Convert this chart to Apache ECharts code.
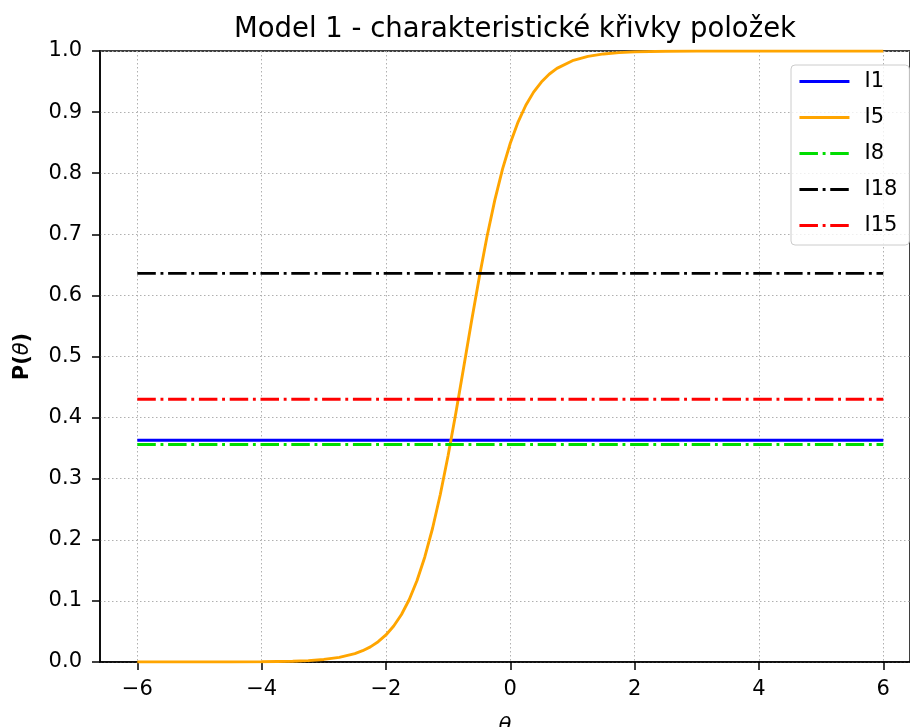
<!DOCTYPE html>
<html>
<head>
<meta charset="utf-8">
<script src="https://cdn.jsdelivr.net/npm/echarts@6/dist/echarts.min.js"></script>
<style>
  html, body { margin: 0; padding: 0; background: #fff; }
  #chart { width: 910px; height: 727px; }
</style>
</head>
<body>
<div id="chart"></div>
<script>
// hodnoty
var thetaRange = [-6, 6];
var i1Level = 0.363;
var i8Level = 0.356;
var i18Level = 0.636;
var i15Level = 0.43;

// křivka I5 (theta, P)
var i5Theta = [-6, -5, -4.5, -4, -3.5, -3.25, -3, -2.75, -2.5, -2.375, -2.25, -2.125, -2,
  -1.875, -1.75, -1.625, -1.5, -1.375, -1.25, -1.125, -1, -0.875, -0.75, -0.625, -0.5,
  -0.375, -0.25, -0.125, 0, 0.125, 0.25, 0.375, 0.5, 0.625, 0.75, 1, 1.25, 1.5, 1.75,
  2, 2.5, 3, 4, 5, 6];
var i5P = [0.0, 0.00003, 0.00012, 0.0004, 0.0013, 0.0023, 0.0042, 0.0076, 0.0138, 0.0185,
  0.0248, 0.0332, 0.0443, 0.0589, 0.0778, 0.1023, 0.1333, 0.1719, 0.2189, 0.2745, 0.3381,
  0.408, 0.482, 0.557, 0.629, 0.696, 0.7555, 0.8066, 0.849, 0.8837, 0.9112, 0.9327, 0.9492,
  0.9619, 0.9715, 0.9841, 0.9912, 0.9952, 0.9973, 0.9985, 0.9996, 0.9999, 1.0, 1.0, 1.0];

var xTicks = [-6, -4, -2, 0, 2, 4, 6];

var font = 'DejaVu Sans';
var dashDot = [18.5, 4.7, 2.9, 4.7];

var chart = echarts.init(document.getElementById('chart'));

function flat(level){
  return [[thetaRange[0], level], [thetaRange[1], level]];
}

function lineSeries(name, data, color, type){
  return {
    name: name,
    type: 'line',
    data: data,
    symbol: 'none',
    silent: true,
    lineStyle: { color: color, width: 2.9, type: type, cap: 'butt' },
    itemStyle: { color: color }
  };
}

function legendItem(name, color, type){
  return {
    name: name,
    itemStyle: { opacity: 0 },
    lineStyle: { color: color, width: 2.9, type: type, cap: 'butt' }
  };
}

var i5Data = i5Theta.map(function(t, k){ return [t, i5P[k]]; });

var option = {
  backgroundColor: '#fff',
  animation: false,
  title: {
    text: 'Model 1 - charakteristické křivky položek',
    left: 510,
    top: 11,
    textAlign: 'center',
    textStyle: { fontFamily: font, fontSize: 27.5, fontWeight: 'normal', color: '#000' }
  },
  grid: {
    left: 100, top: 51, width: 810, height: 611,
    containLabel: false,
    outerBoundsMode: 'none',
    show: true, borderColor: '#000', borderWidth: 1.5
  },
  legend: {
    orient: 'vertical',
    left: 791, top: 65,
    padding: [6, 12, 9, 7],
    itemWidth: 50, itemHeight: 20, itemGap: 15,
    backgroundColor: 'rgba(255,255,255,0.8)',
    borderColor: '#cccccc', borderWidth: 1, borderRadius: 4,
    textStyle: { fontFamily: font, fontSize: 21, color: '#000', padding: [0, 0, 0, 10] },
    data: [
      legendItem('I1', '#0000ff', 'solid'),
      legendItem('I5', '#ffa500', 'solid'),
      legendItem('I8', '#00dd00', dashDot),
      legendItem('I18', '#000000', dashDot),
      legendItem('I15', '#ff0000', dashDot)
    ]
  },
  xAxis: {
    type: 'value',
    min: -6.6, max: 6.43,
    name: 'θ',
    nameLocation: 'middle',
    nameGap: 54,
    nameTextStyle: { fontFamily: font, fontSize: 21, fontStyle: 'italic', color: '#000' },
    axisLine: { onZero: false, lineStyle: { color: '#000', width: 1.5 } },
    axisTick: { show: true, length: 8, lineStyle: { color: '#000', width: 1.5 }, customValues: xTicks },
    axisLabel: {
      customValues: xTicks,
      margin: 17,
      fontFamily: font, fontSize: 21, color: '#000',
      formatter: function(v){ return v < 0 ? '\u2212' + Math.abs(v) : String(v); }
    },
    splitLine: { show: true, lineStyle: { color: '#b0b0b0', width: 1, type: [1.5, 2.5] } }
  },
  yAxis: {
    type: 'value',
    min: 0, max: 1, interval: 0.1,
    name: '{b|P(}{i|θ}{b|)}',
    nameLocation: 'middle',
    nameGap: 67,
    nameTextStyle: {
      rich: {
        b: { fontFamily: font, fontSize: 21, fontWeight: 'bold', color: '#000' },
        i: { fontFamily: font, fontSize: 21, fontStyle: 'italic', color: '#000' }
      }
    },
    axisLine: { show: true, onZero: false, lineStyle: { color: '#000', width: 1.5 } },
    axisTick: { show: true, length: 8, lineStyle: { color: '#000', width: 1.5 } },
    axisLabel: {
      margin: 18,
      fontFamily: font, fontSize: 21, color: '#000',
      formatter: function(v){ return v.toFixed(1); }
    },
    splitLine: { show: true, lineStyle: { color: '#b0b0b0', width: 1, type: [1.5, 2.5] } }
  },
  series: [
    lineSeries('I1', flat(i1Level), '#0000ff', 'solid'),
    lineSeries('I5', i5Data, '#ffa500', 'solid'),
    lineSeries('I8', flat(i8Level), '#00dd00', dashDot),
    lineSeries('I18', flat(i18Level), '#000000', dashDot),
    lineSeries('I15', flat(i15Level), '#ff0000', dashDot)
  ]
};

chart.setOption(option);
</script>
</body>
</html>
